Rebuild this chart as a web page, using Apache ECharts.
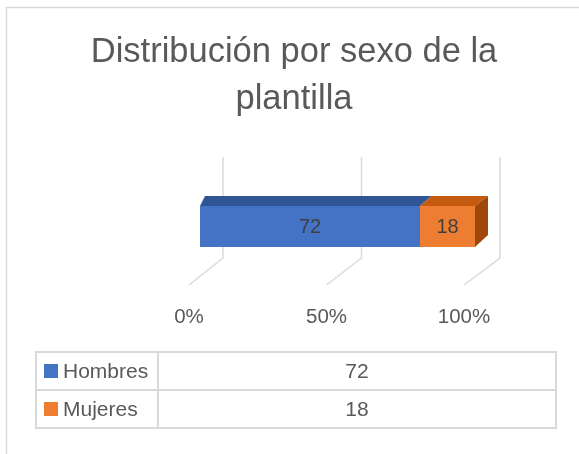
<!DOCTYPE html>
<html>
<head>
<meta charset="utf-8">
<title>Distribución por sexo de la plantilla</title>
<script src="https://cdn.jsdelivr.net/npm/echarts@6/dist/echarts.min.js"></script>
<style>
  html, body { margin: 0; padding: 0; background: #fff; }
  #chart { width: 579px; height: 454px; }
</style>
</head>
<body>
<div id="chart"></div>
<script>
// Chart data
const titleLines = ['Distribución por sexo de la', 'plantilla'];
const categories = [''];
const seriesNames = ['Hombres', 'Mujeres'];
const hombres = [72];
const mujeres = [18];
const tickValues = [0, 50, 100];
const tickLabels = ['0%', '50%', '100%'];

// Styling
const FONT = 'Liberation Sans, Arial, sans-serif';
const TEXT = '#595959';
const GRID = '#D9D9D9';
const frontColors = ['#4472C4', '#ED7D31'];
const topColors = ['#2F5597', '#C55A11'];
const sideColors = ['#203864', '#9E480E'];

const seriesValues = [hombres, mujeres];
const total = hombres[0] + mujeres[0];

// cumulative 100% stack segments: [startPct, endPct, rawValue, categoryIndex]
let acc = 0;
const segments = seriesValues.map(vals => {
    const start = acc / total * 100;
    acc += vals[0];
    return [start, acc / total * 100, vals[0], 0];
});

// 3D-looking wall + floor gridlines, drawn from the axis scale
function renderGridLine(params, api) {
    const v = api.value(0);
    const p = api.coord([v, 0]);
    const back = p[0] + 34 + 2 * v / 100;
    return {
        type: 'polyline',
        shape: { points: [[back, p[1] - 69], [back, p[1] + 32], [p[0], p[1] + 59]] },
        style: { stroke: GRID, lineWidth: 1.5, fill: null }
    };
}

function makeBarRenderer(idx) {
    return function (params, api) {
        const p0 = api.value(0), p1 = api.value(1);
        const a = api.coord([p0, 0]);
        const b = api.coord([p1, 0]);
        const cy = a[1];
        const x0 = a[0] + 11, x1 = b[0] + 11;
        const yt = cy - 20, yb = cy + 21;
        const d0 = 5 + 8 * p0 / 100, d1 = 5 + 8 * p1 / 100;
        const children = [
            {
                type: 'polygon',
                shape: { points: [[x0, yt], [x1, yt], [x1 + d1, yt - 10], [x0 + d0, yt - 10]] },
                style: { fill: topColors[idx] }
            },
            {
                type: 'rect',
                shape: { x: x0, y: yt, width: x1 - x0, height: yb - yt },
                style: { fill: frontColors[idx] }
            },
            {
                type: 'text',
                style: {
                    text: String(api.value(2)),
                    x: (x0 + x1) / 2, y: cy + 1,
                    textAlign: 'center', textVerticalAlign: 'middle',
                    fontSize: 20, fontFamily: FONT, fill: '#404040'
                }
            }
        ];
        if (idx === seriesNames.length - 1) {
            children.push({
                type: 'polygon',
                shape: { points: [[x1, yt], [x1 + d1, yt - 10], [x1 + d1, yb - 12], [x1, yb]] },
                style: { fill: sideColors[idx] }
            });
        }
        return { type: 'group', children: children };
    };
}

// Data table under the chart
function buildTable() {
    const left = 36, right = 556, colSplit = 158, top = 352, rowH = 38;
    const els = [];
    const border = { stroke: GRID, lineWidth: 2, fill: null };
    els.push({ type: 'rect', shape: { x: left, y: top, width: right - left, height: rowH * seriesNames.length }, style: border });
    els.push({ type: 'line', shape: { x1: colSplit, y1: top, x2: colSplit, y2: top + rowH * seriesNames.length }, style: border });
    seriesNames.forEach((name, i) => {
        const y = top + rowH * i;
        if (i > 0) {
            els.push({ type: 'line', shape: { x1: left, y1: y, x2: right, y2: y }, style: border });
        }
        els.push({ type: 'rect', shape: { x: 44, y: y + 12, width: 14, height: 14 }, style: { fill: frontColors[i] } });
        els.push({
            type: 'text',
            style: { text: name, x: 63, y: y + rowH / 2 + 1, textAlign: 'left', textVerticalAlign: 'middle', fontSize: 21, fontFamily: FONT, fill: TEXT }
        });
        els.push({
            type: 'text',
            style: { text: String(seriesValues[i][0]), x: (colSplit + right) / 2, y: y + rowH / 2 + 1, textAlign: 'center', textVerticalAlign: 'middle', fontSize: 21, fontFamily: FONT, fill: TEXT }
        });
    });
    return els;
}

const chart = echarts.init(document.getElementById('chart'));

const graphics = [
    // chart area frame (top and left edge visible)
    { type: 'polyline', shape: { points: [[6.5, 454], [6.5, 7.5], [579, 7.5]] }, style: { stroke: GRID, lineWidth: 1.5, fill: null } }
];
titleLines.forEach((line, i) => {
    graphics.push({
        type: 'text',
        style: {
            text: line, x: 294, y: 52 + i * 47,
            textAlign: 'center', textVerticalAlign: 'middle',
            fontSize: 34.5, fontFamily: FONT, fill: TEXT
        }
    });
});

chart.setOption({
    animation: false,
    grid: { left: 189, top: 167, width: 275, height: 118 },
    xAxis: {
        type: 'value',
        min: 0,
        max: 100,
        interval: 50,
        axisLine: { show: false },
        axisTick: { show: false },
        splitLine: { show: false },
        axisLabel: {
            margin: 22,
            color: TEXT,
            fontSize: 20.5,
            fontFamily: FONT,
            formatter: v => tickLabels[tickValues.indexOf(v)]
        }
    },
    yAxis: { type: 'category', data: categories, show: false },
    series: [
        {
            type: 'custom',
            name: 'grid',
            silent: true,
            clip: false,
            z: 1,
            renderItem: renderGridLine,
            data: tickValues.map(v => [v, 0])
        }
    ].concat(seriesNames.map((name, i) => ({
        type: 'custom',
        name: name,
        clip: false,
        z: 3,
        renderItem: makeBarRenderer(i),
        encode: { x: [0, 1], y: 3 },
        data: [segments[i]]
    }))),
    graphic: graphics.concat(buildTable())
});
</script>
</body>
</html>
